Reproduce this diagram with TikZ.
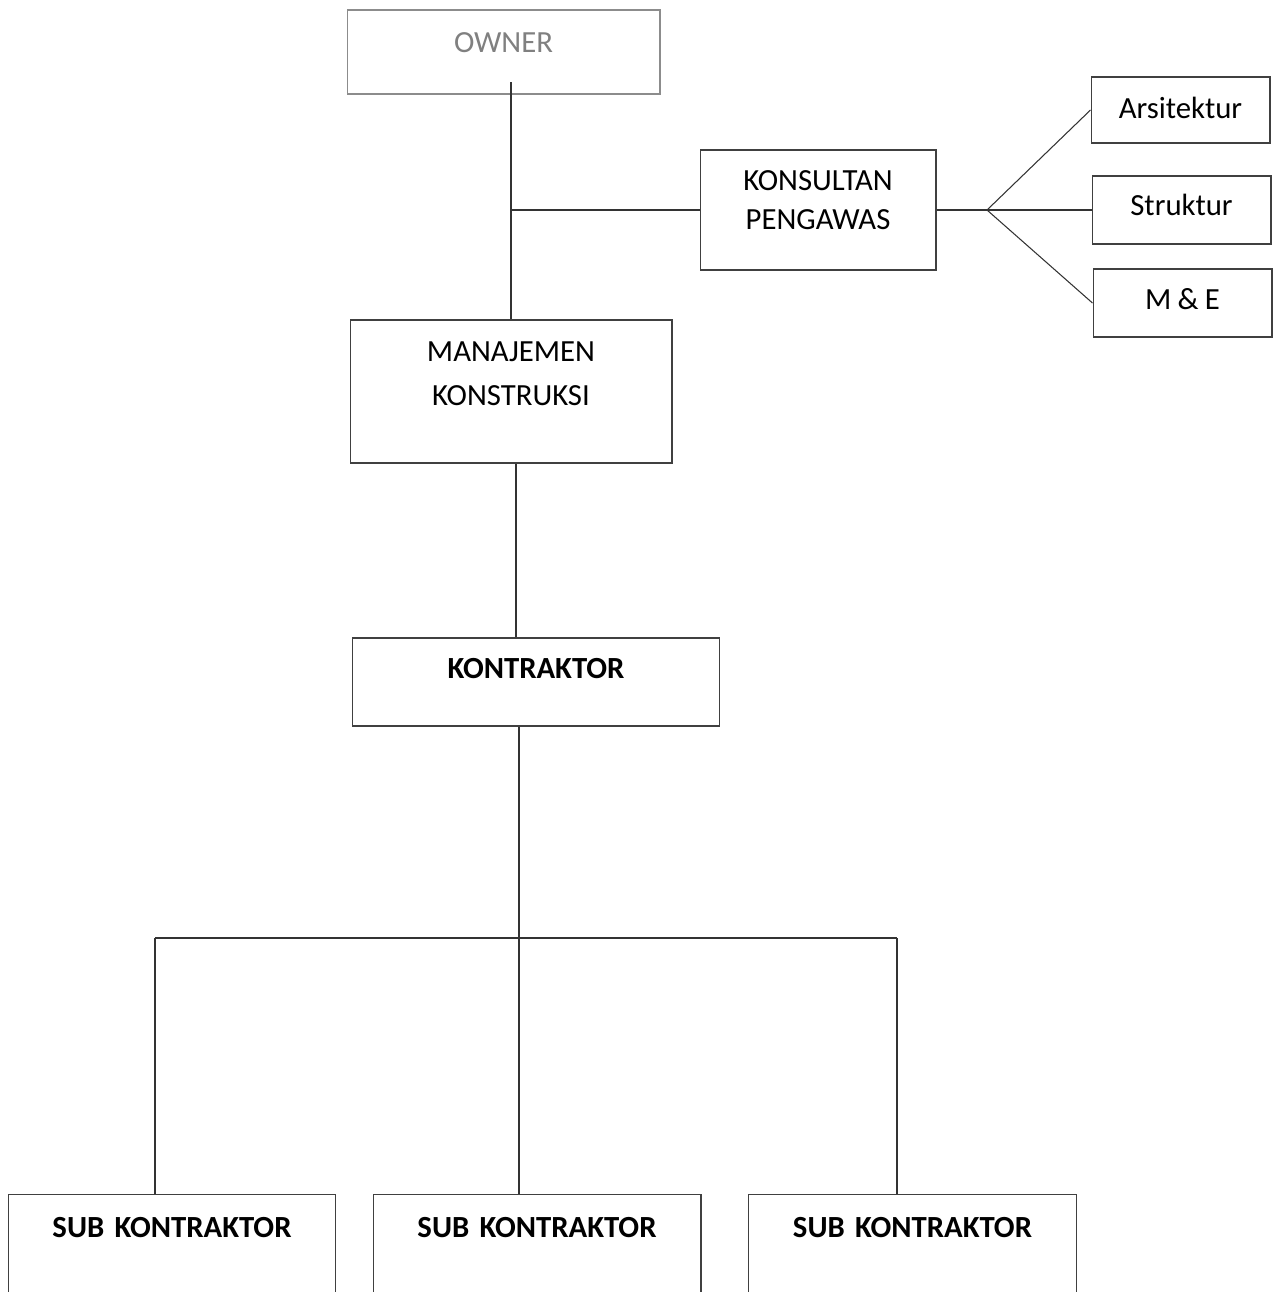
\documentclass[tikz,border=0pt]{standalone}
\usepackage{fontspec}
\setmainfont{Carlito}
\usetikzlibrary{positioning,calc}

\begin{document}
\begin{tikzpicture}[
x=0.02cm, y=-0.02cm,
font=\fontsize{17.5}{22.5}\selectfont,
box/.style={draw=black!75, line width=0.6pt, inner sep=0pt, align=center},
link/.style={draw=black!80, line width=0.6pt},
subbox/.style={box, font=\fontsize{17.5}{22.5}\selectfont\bfseries,
    text width=6.56cm, text height=0.86cm, text depth=2.14cm},
]
\useasboundingbox (0,0) rectangle (1281,1292);
\clip (0,0) rectangle (1281,1292);

\node[box, draw=black!45, text=black!50, text width=6.26cm,
      text height=0.84cm, text depth=0.84cm] (owner) at (503.5,52) {OWNER};
\node[box, text width=4.72cm, text height=0.8cm, text depth=1.6cm]
      (konsultan) at (818,210) {KONSULTAN\\PENGAWAS};
\node[box, text width=3.58cm, text height=0.82cm, text depth=0.5cm]
      (arsitektur) at (1180.5,110) {Arsitektur};
\node[box, text width=3.58cm, text height=0.78cm, text depth=0.58cm]
      (struktur) at (1181.5,210) {Struktur};
\node[box, text width=3.58cm, text height=0.8cm, text depth=0.56cm]
      (mne) at (1182.5,303) {M\hspace{0.2em}\&\hspace{0.2em}E};
\node[box, text width=6.44cm, text height=0.82cm, text depth=2.04cm,
      font=\fontsize{17.5}{25.6}\selectfont] (manajemen) at (511,391.5) {MANAJEMEN\\KONSTRUKSI};
\node[box, text width=7.36cm, text height=0.8cm, text depth=0.96cm,
      font=\fontsize{17.5}{22.5}\selectfont\bfseries] (kontraktor) at (536,682) {KONTRAKTOR};

\node[subbox] (sub1) at (172,1269) {SUB KONTRAKTOR};
\node[subbox] (sub2) at (537,1269) {SUB KONTRAKTOR};
\node[subbox] (sub3) at (912.5,1269) {SUB KONTRAKTOR};

\coordinate (branch) at (987,210);
\coordinate (j1) at (155,938);
\coordinate (j2) at (519,938);
\coordinate (j3) at (897,938);

\draw[link] (manajemen.north |- 0,82) -- (manajemen.north);
\draw[link] (konsultan.west -| manajemen.north) -- (konsultan.west);
\draw[link] (konsultan.east) -- (branch);
\draw[link] (branch) -- (arsitektur.west);
\draw[link] (branch) -- (struktur.west);
\draw[link] (branch) -- (mne.west);
\draw[link] (manajemen.south -| 516,0) -- (kontraktor.north -| 516,0);
\draw[link] (kontraktor.south -| j2) -- (j2);
\draw[link] (j1) -- (j3);
\draw[link] (j1) -- (j1 |- sub1.north);
\draw[link] (j2) -- (j2 |- sub2.north);
\draw[link] (j3) -- (j3 |- sub3.north);

\end{tikzpicture}
\end{document}
